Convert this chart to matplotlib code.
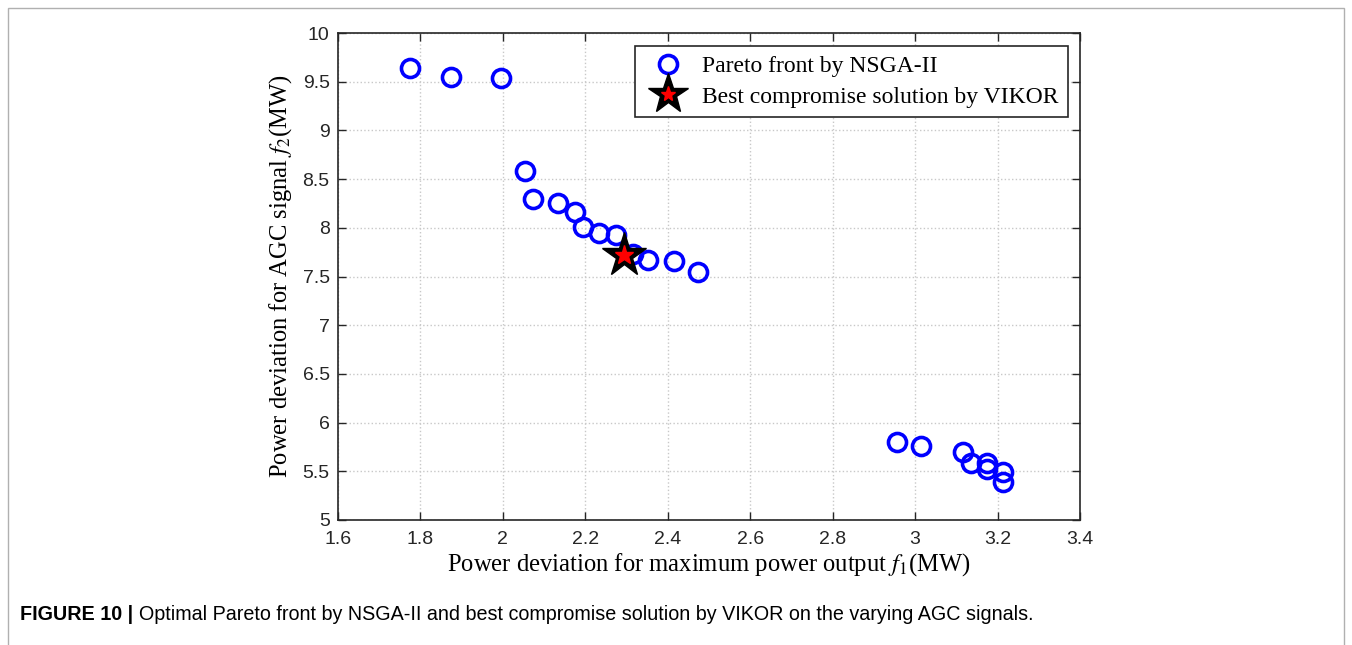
import matplotlib
matplotlib.use("Agg")
import matplotlib.pyplot as plt
from matplotlib.patches import Rectangle
from matplotlib.lines import Line2D

# ---- data ----
pareto_f1 = [1.775, 1.873, 1.995, 2.054, 2.074, 2.134, 2.175, 2.194, 2.233, 2.274,
             2.316, 2.353, 2.414, 2.474,
             2.955, 3.014, 3.115, 3.135, 3.175, 3.175, 3.214, 3.214]
pareto_f2 = [9.64, 9.545, 9.535, 8.586, 8.292, 8.252, 8.159, 8.005, 7.944, 7.926,
             7.73, 7.669, 7.659, 7.55,
             5.80, 5.76, 5.695, 5.582, 5.582, 5.52, 5.497, 5.393]
best_f1 = [2.294]
best_f2 = [7.721]
xticks = [1.6, 1.8, 2.0, 2.2, 2.4, 2.6, 2.8, 3.0, 3.2, 3.4]
xticklabels = ["1.6", "1.8", "2", "2.2", "2.4", "2.6", "2.8", "3", "3.2", "3.4"]
yticks = [5, 5.5, 6, 6.5, 7, 7.5, 8, 8.5, 9, 9.5, 10]
yticklabels = ["5", "5.5", "6", "6.5", "7", "7.5", "8", "8.5", "9", "9.5", "10"]

plt.rcParams['mathtext.fontset'] = 'stix'

fig = plt.figure(figsize=(13.52, 6.45), dpi=100)
ax = fig.add_axes([338/1352, 1-520/645, (1080-338)/1352, (520-33)/645])

ax.plot(pareto_f1, pareto_f2, linestyle='none', marker='o', markersize=13,
        markerfacecolor='none', markeredgecolor='#0000ff', markeredgewidth=2.6, zorder=3)
ax.plot(best_f1, best_f2, linestyle='none', marker='*', markersize=33,
        color='black', zorder=4)
ax.plot(best_f1, best_f2, linestyle='none', marker='*', markersize=14,
        color='#ff0000', zorder=5)

ax.set_xlim(1.6, 3.4)
ax.set_ylim(5, 10)
ax.set_xticks(xticks)
ax.set_xticklabels(xticklabels)
ax.set_yticks(yticks)
ax.set_yticklabels(yticklabels)
ax.grid(True, linestyle=':', color='#c8c8c8', linewidth=1.0)
ax.set_axisbelow(True)
ax.tick_params(direction='in', top=True, right=True, length=6, width=1.0,
               labelsize=14, colors='#262626')
ax.tick_params(axis='x', pad=8)
ax.tick_params(axis='y', pad=6)
for lab in ax.get_xticklabels() + ax.get_yticklabels():
    lab.set_fontfamily(['Liberation Sans', 'DejaVu Sans'])
for s in ax.spines.values():
    s.set_color('#262626')
    s.set_linewidth(1.2)

serif = ['Liberation Serif', 'DejaVu Serif']
ax.set_xlabel(r"Power deviation for maximum power output $f_1$(MW)",
              fontsize=17.7, family=serif, labelpad=2)
ax.set_ylabel(r"Power deviation for AGC signal $f_2$(MW)",
              fontsize=17.7, family=serif, labelpad=6)

h1 = Line2D([], [], linestyle='none', marker='o', markersize=13, markerfacecolor='none',
            markeredgecolor='#0000ff', markeredgewidth=2.6)
h2a = Line2D([], [], linestyle='none', marker='*', markersize=30, color='black')
h2b = Line2D([], [], linestyle='none', marker='*', markersize=11, color='#ff0000')
leg = ax.legend([h1, (h2a, h2b)], ["Pareto front by NSGA-II", "Best compromise solution by VIKOR"],
                loc='upper right', bbox_to_anchor=(0.9935, 0.9875), fancybox=False,
                edgecolor='#262626', framealpha=1, prop={'family': serif, 'size': 17},
                handletextpad=0.45, borderpad=0.4, labelspacing=0.38, handlelength=2.0,
                borderaxespad=0.3)
leg.get_frame().set_linewidth(1.2)

# outer frame
fig.patches.append(Rectangle((8/1352, -0.05), 1 - 16/1352, 1.05 - 8/645, transform=fig.transFigure,
                             fill=False, edgecolor='#b0b0b0', linewidth=1.0))

cap_family = ['Liberation Sans', 'DejaVu Sans']
t1 = fig.text(20/1352, 1-614/645, "FIGURE 10 |", fontsize=14.2, fontweight='bold',
              family=cap_family, va='center', ha='left')
fig.canvas.draw()
bb = t1.get_window_extent()
x2 = (bb.x1 + 6) / fig.bbox.width
fig.text(x2, 1-614/645, "Optimal Pareto front by NSGA-II and best compromise solution by VIKOR on the varying AGC signals.",
         fontsize=14.2, family=cap_family, va='center', ha='left')

fig.savefig("out.png", dpi=100)
